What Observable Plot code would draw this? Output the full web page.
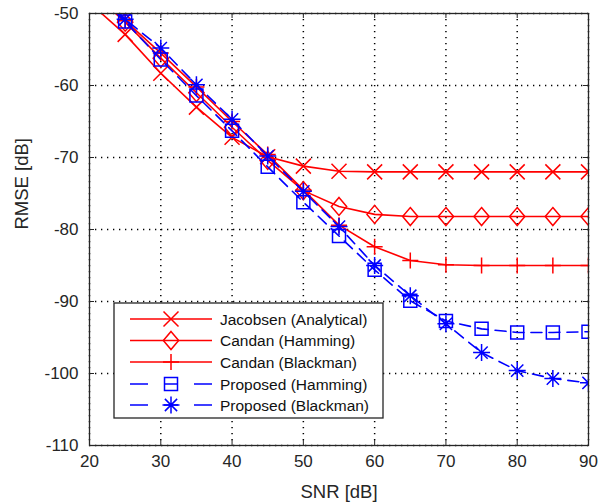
<!DOCTYPE html>
<html><head><meta charset="utf-8">
<script src="https://cdn.jsdelivr.net/npm/d3@7"></script>
<script src="https://cdn.jsdelivr.net/npm/@observablehq/plot@0.6"></script>
<style>
body{margin:0;background:#fff;}
#chart{width:606px;height:504px;}
</style>
</head><body><div id="chart"></div>
<script>
// ---- data ----
const snr = [20,25,30,35,40,45,50,55,60,65,70,75,80,85,90];
const jacobsen   = [-48.5,-52.9,-58.3,-63.0,-67.2,-69.9,-71.2,-71.9,-72.0,-72.0,-72.0,-72.0,-72.0,-72.0,-72.0];
const candanHam  = [-46.7,-51.2,-56.2,-61.0,-65.8,-70.4,-74.6,-76.8,-77.9,-78.2,-78.2,-78.2,-78.2,-78.2,-78.2];
const candanBlk  = [-46.5,-51.0,-55.5,-60.2,-65.0,-69.6,-74.5,-79.4,-82.4,-84.3,-84.9,-85.0,-85.0,-85.0,-85.0];
const propHam    = [-46.3,-51.1,-56.4,-61.4,-66.3,-71.3,-76.2,-80.9,-85.6,-89.9,-92.7,-93.8,-94.3,-94.3,-94.2];
const propBlk    = [-46.0,-50.8,-54.8,-59.9,-64.7,-69.8,-74.7,-79.6,-85.0,-89.2,-93.1,-97.1,-99.6,-100.7,-101.3];
const seriesNames = ["Jacobsen (Analytical)","Candan (Hamming)","Candan (Blackman)","Proposed (Hamming)","Proposed (Blackman)"];
const seriesValues = [jacobsen, candanHam, candanBlk, propHam, propBlk];
const xTicks = [20,30,40,50,60,70,80,90];
const yTicks = [-110,-100,-90,-80,-70,-60,-50];

// ---- marker shapes (MATLAB-like) ----
const rad = s => Math.sqrt(s/Math.PI);
const symTimes = {draw(c,s){const a=rad(s);c.moveTo(-a,-a);c.lineTo(a,a);c.moveTo(-a,a);c.lineTo(a,-a);}};
const symDiamond = {draw(c,s){const a=rad(s),w=a*0.85;c.moveTo(0,-a);c.lineTo(w,0);c.lineTo(0,a);c.lineTo(-w,0);c.closePath();}};
const symPlus = {draw(c,s){const a=rad(s);c.moveTo(-a,0);c.lineTo(a,0);c.moveTo(0,-a);c.lineTo(0,a);}};
const symSquare = {draw(c,s){const a=rad(s);c.rect(-a,-a,2*a,2*a);}};
const symStar = {draw(c,s){const a=rad(s),d=a*0.72;c.moveTo(-a,0);c.lineTo(a,0);c.moveTo(0,-a);c.lineTo(0,a);c.moveTo(-d,-d);c.lineTo(d,d);c.moveTo(-d,d);c.lineTo(d,-d);}};

const styles = [
  {color:"#ff0000", dash:null, sym:symTimes, r:7.5},
  {color:"#ff0000", dash:null, sym:symDiamond, r:9},
  {color:"#ff0000", dash:null, sym:symPlus, r:8},
  {color:"#0000ff", dash:"11,7", sym:symSquare, r:6.5},
  {color:"#0000ff", dash:"11,7", sym:symStar, r:8.5}
];

const rows = seriesValues.map((vals,i)=>snr.map((x,j)=>({x, y:vals[j], s:seriesNames[i]})));

const W=606,H=504,mL=89,mR=18,mT=13,mB=59;
const fw=W-mL-mR, fh=H-mT-mB;
const axisColor="#262626";

const marks = [
  Plot.gridX(xTicks,{x:d=>d,stroke:"#000",strokeOpacity:1,strokeWidth:1.5,strokeDasharray:"1.3,4.7"}),
  Plot.gridY(yTicks,{y:d=>d,stroke:"#000",strokeOpacity:1,strokeWidth:1.5,strokeDasharray:"1.3,4.7"}),
];
rows.forEach((data,i)=>{
  const st=styles[i];
  marks.push(Plot.line(data,{x:"x",y:"y",stroke:st.color,strokeWidth:1.6,strokeDasharray:st.dash,clip:true}));
  marks.push(Plot.dot(data,{x:"x",y:"y",symbol:()=>st.sym,r:st.r,stroke:st.color,strokeWidth:1.5,fill:"none",clip:true}));
});
marks.push(
  Plot.tickX(xTicks,{x:d=>d,stroke:axisColor,strokeWidth:1,insetTop:fh-5}),
  Plot.tickX(xTicks,{x:d=>d,stroke:axisColor,strokeWidth:1,insetBottom:fh-5}),
  Plot.tickY(yTicks,{y:d=>d,stroke:axisColor,strokeWidth:1,insetRight:fw-5}),
  Plot.tickY(yTicks,{y:d=>d,stroke:axisColor,strokeWidth:1,insetLeft:fw-5}),
  Plot.frame({stroke:axisColor,strokeWidth:1.3}),
  Plot.axisX({ticks:xTicks,tickSize:0,tickPadding:9,tickFormat:d=>String(d),fontSize:17,label:null}),
  Plot.axisY({ticks:yTicks,tickSize:0,tickPadding:11,tickFormat:d=>String(d),fontSize:17,label:null}),
  Plot.text(["SNR [dB]"],{frameAnchor:"bottom",dy:47,fontSize:18.5,lineAnchor:"middle",fill:axisColor}),
  Plot.text(["RMSE [dB]"],{frameAnchor:"left",dx:-67,rotate:-90,fontSize:18.5,lineAnchor:"middle",fill:axisColor})
);

const chart = Plot.plot({
  width:W,height:H,marginLeft:mL,marginRight:mR,marginTop:mT,marginBottom:mB,
  x:{domain:[20,90]},
  y:{domain:[-110,-50]},
  style:{fontFamily:"'Liberation Sans', Arial, Helvetica, sans-serif",color:axisColor,background:"#fff",overflow:"visible"},
  marks
});
document.getElementById("chart").appendChild(chart);

// ---- legend (inside the axes, lower left) ----
const svg = d3.select(chart);
const lg = svg.append("g").attr("class","legend").attr("text-anchor","start");
const bx=114, by=303, bw=269, bh=115;
lg.append("rect").attr("x",bx).attr("y",by).attr("width",bw).attr("height",bh)
  .attr("fill","#fff").attr("stroke",axisColor).attr("stroke-width",1.3);
const rowY = [319,340.5,362,384,405];
seriesNames.forEach((name,i)=>{
  const st=styles[i], y=rowY[i];
  lg.append("line").attr("x1",130).attr("x2",212).attr("y1",y).attr("y2",y)
    .attr("stroke",st.color).attr("stroke-width",1.6)
    .attr("stroke-dasharray",st.dash?"18,16,14,16,18":null);
  lg.append("path").attr("transform",`translate(171,${y})`)
    .attr("d",d3.symbol(st.sym, Math.PI*st.r*st.r)())
    .attr("fill","none").attr("stroke",st.color).attr("stroke-width",1.5);
  lg.append("text").attr("x",220).attr("y",y).attr("dy","0.36em")
    .attr("text-anchor","start")
    .attr("font-size",15.5).attr("fill","#111").text(name);
});
</script>
</body></html>
